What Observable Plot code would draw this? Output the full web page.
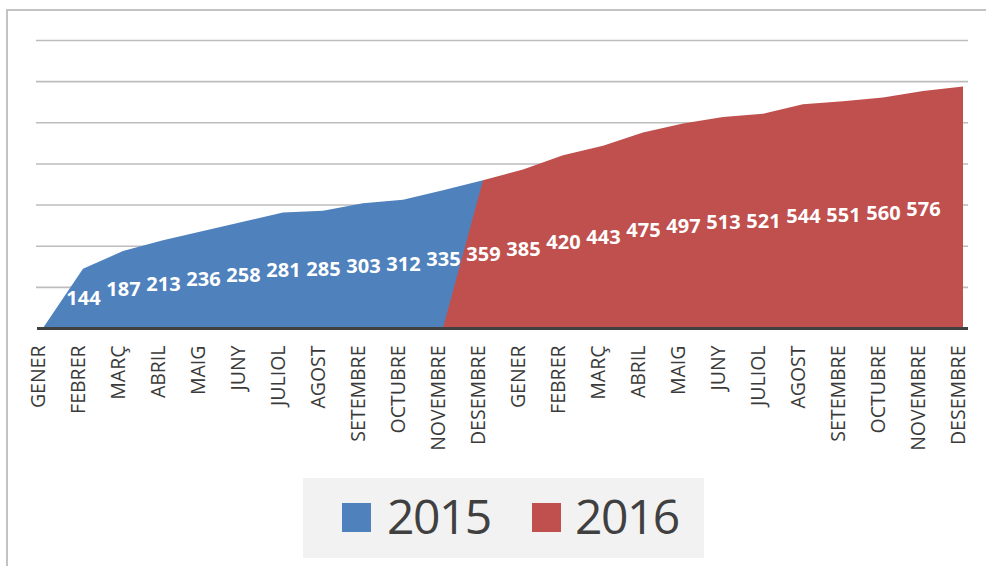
<!DOCTYPE html>
<html>
<head>
<meta charset="utf-8">
<script src="https://cdn.jsdelivr.net/npm/d3@7"></script>
<script src="https://cdn.jsdelivr.net/npm/@observablehq/plot@0.6"></script>
<style>
  html, body { margin: 0; padding: 0; background: #ffffff; }
  #wrap { position: relative; width: 986px; height: 566px; overflow: hidden; font-family: "Open Sans", sans-serif; }
  #frame { position: absolute; left: 6px; top: 9px; width: 1000px; height: 600px; border-left: 2px solid #c3c3c3; border-top: 2px solid #c3c3c3; }
  #chart { position: absolute; left: 0; top: 0; }
  #legend { position: absolute; left: 303px; top: 478px; width: 401px; height: 80px; background: #f2f2f2; }
  .sw { position: absolute; top: 25px; width: 29px; height: 29px; }
  .lt { position: absolute; top: 5px; font-size: 48px; letter-spacing: -1.5px; line-height: 66px; color: #404040; }
</style>
</head>
<body>
<div id="wrap">
  <div id="frame"></div>
  <div id="chart"></div>
  <div id="legend"></div>
</div>
<script>
// Category labels (two years of months)
const months = ["GENER","FEBRER","MARÇ","ABRIL","MAIG","JUNY","JULIOL","AGOST","SETEMBRE","OCTUBRE","NOVEMBRE","DESEMBRE"];
const categories = months.concat(months);
// Series values (cumulative), index aligned with categories; null = no value
const values2015 = [0,144,187,213,236,258,281,285,303,312,335,359,null,null,null,null,null,null,null,null,null,null,null,null];
const values2016 = [null,null,null,null,null,null,null,null,null,null,0,359,385,420,443,475,497,513,521,544,551,560,576,587];
// Which points carry a data label
const labelled = [false,true,true,true,true,true,true,true,true,true,true,true,true,true,true,true,true,true,true,true,true,true,true,false];
const yTicks = [0,100,200,300,400,500,600,700];
const seriesNames = ["2015","2016"];
const colors = ["#4f81bd","#c0504d"];

const rows2015 = values2015.map((v,i)=>({i, v})).filter(d=>d.v!==null);
const rows2016 = values2016.map((v,i)=>({i, v})).filter(d=>d.v!==null);
const labelRows = categories.map((c,i)=>({i, v: i <= 11 ? values2015[i] : values2016[i]})).filter(d=>labelled[d.i]);

const chart = Plot.plot({
  width: 986,
  height: 470,
  marginLeft: 38,
  marginRight: 18,
  marginTop: 40,
  marginBottom: 142,
  style: { background: "transparent", fontFamily: "'Open Sans', sans-serif" },
  x: { type: "point", domain: d3.range(categories.length), padding: 0, label: null },
  y: { domain: [0, 700], axis: null },
  marks: [
    Plot.ruleY(yTicks.slice(1), { stroke: "#bdbdbd", strokeWidth: 1.6, insetLeft: -2 }),
    Plot.areaY(rows2015, { x: "i", y: "v", fill: colors[0] }),
    Plot.areaY(rows2016, { x: "i", y: "v", fill: colors[1] }),
    Plot.ruleY([0], { stroke: "#404040", strokeWidth: 3, insetLeft: -1 }),
    Plot.text(labelRows, { x: "i", y: d => d.v / 2, text: d => String(d.v), fill: "white", fontWeight: "bold", fontSize: 20 }),
    Plot.axisX({ tickFormat: i => categories[i], label: null, tickRotate: -90, tickSize: 0, tickPadding: 17, fontSize: 19.5, fill: "#3a3a3a", dx: -5 })
  ]
});
document.getElementById("chart").appendChild(chart);

const legend = document.getElementById("legend");
const swX = [39, 229];
const txtX = [84, 272];
seriesNames.forEach((n, k) => {
  const s = document.createElement("div");
  s.className = "sw"; s.style.left = swX[k] + "px"; s.style.background = colors[k];
  legend.appendChild(s);
  const t = document.createElement("div");
  t.className = "lt"; t.style.left = txtX[k] + "px"; t.textContent = n;
  legend.appendChild(t);
});
</script>
</body>
</html>
